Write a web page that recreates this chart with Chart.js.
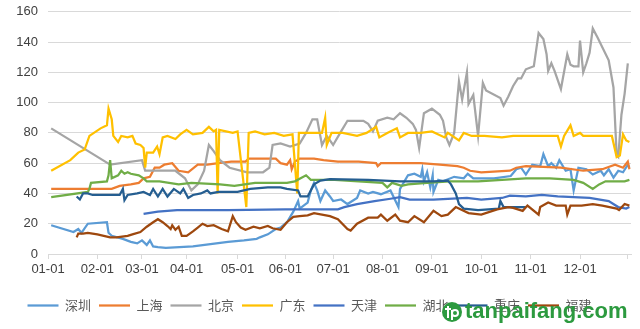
<!DOCTYPE html>
<html>
<head>
<meta charset="utf-8">
<script src="https://cdn.jsdelivr.net/npm/chart.js@4/dist/chart.umd.min.js"></script>
<style>
  html, body { margin: 0; padding: 0; background: #fff; }
</style>
</head>
<body>
<canvas id="price-chart" width="640" height="329"></canvas>
<script>
// 碳市场各试点成交均价（元/吨），x 为当年序号
const cities = ['深圳', '上海', '北京', '广东', '天津', '湖北', '重庆', '福建'];
const tickPos = [0, 31, 59, 87, 119, 149, 179, 210, 241, 272, 303, 334, 364];
const tickLabels = ['01-01', '02-01', '03-01', '04-01', '05-01', '06-01', '07-01', '08-01', '09-01', '10-01', '11-01', '12-01', ''];

const shenzhen = [[2,19],[16,14.5],[19,16.5],[21,14],[25,20],[37,21],[38,14],[40,12],[47,10],[52,8],[56,7],[59,9],[62,6],[64,9],[66,5],[69,4.5],[74,4],[91,5],[102,6.5],[113,8],[123,9],[131,10],[133,11],[138,13],[143,16.5],[146,17.5],[150,21],[154,28],[157,35],[158,30],[163,34],[165,42],[167,47],[169,42],[171,35],[174,42],[177,38],[179,35],[184,36],[188,33],[194,37],[196,42],[201,40],[204,41],[209,39.5],[215,42],[220,31],[221,43],[226,52],[230,53],[234,51],[235,56],[236,48],[238,54],[240,44],[241.5,52],[242,41],[245,49],[248,48],[255,51],[261,50],[263.5,53],[267,50],[280,50],[290.5,51.5],[294,56],[297,57],[300,52.5],[304,59],[309,58],[311,66],[314,58],[316,60],[319,57],[321,62],[325,55],[328,56],[330,42],[333,57],[338,56],[342,52.5],[347,55],[349,52],[352,56],[355,50.5],[358,55],[361,54],[364,59],[365,57]];
const shanghai = [[2,43],[40,43],[45,45],[52,46],[57,47],[60,50],[64,51],[67,57],[70,57],[73,59],[78,60],[82,55],[88,54],[94,59],[100,59],[107,60],[115,61],[124,61],[126,63],[133,63],[143,63],[146,60],[150,59],[152,62],[153,56],[155,61],[158,63],[167,63],[173,62],[182,61],[195,61],[206,60],[207,58],[209,60],[221,60],[234,60],[246,59],[257,58],[261,57],[265,55],[272,54],[290,55],[294,57],[300,58],[322,57],[336,55],[348,56],[356,59],[361,57],[364,61],[365,56]];
const beijing = [[2,83],[39,59],[59,62],[61,55],[80,55],[86,50],[90,42],[94,46],[98,55],[101,72],[104,68],[108,62],[114,57],[125,54],[135,54],[139,57],[141,72],[146,73],[152,71],[158,73],[162,80],[166,89],[169,89],[172,72],[175,78],[179,72],[184,81],[188,88],[198,88],[201,86],[204,81],[207,88],[213,90],[217,89],[221,93],[225,90],[229,86],[231,82],[233,70],[236,93],[241,96],[246,92],[248,88],[250,77],[252,72],[255,80],[258,114],[260,102],[263,120],[264,99],[267,105],[270,78],[273,113],[275,108],[284,103],[286,98],[289,104],[292,111],[295,116],[297,116],[300,122],[305,124],[308,146],[311,142],[313,132],[314,121],[316,126],[318,121],[322,109],[326,132],[328,125],[330,124],[333,124],[334,141],[336,120],[338,126],[340,133],[342,149],[345,143],[352,128],[355,110],[357,65],[358,64],[360,92],[362,106],[364,126]];
const guangdong = [[2,55],[14,62],[19,67],[23,69],[26,78],[33,83],[37,85],[38,96],[40,89],[41,78],[44,74],[46,78],[50,77],[53,78],[55,73],[58,72],[60,70],[61,57],[62,67],[66,67],[68.5,71],[70,66],[72,77],[75,78],[80,76],[83,79],[87,82],[91,79],[97,80],[101,84],[104,81],[105.5,82],[106.5,40],[107.5,82],[116,80],[119,81],[124.5,31],[126,80],[130,81],[136,79],[142,80],[148,78],[153.5,79],[156.5,40],[157.5,80],[165,80],[172,80],[174,90],[175,72],[178,80],[185,80],[194,78],[200,80],[206,84],[208,77],[213,80],[219,83],[221,77],[226,80],[234,80],[241,81],[249,77],[251,80],[258,75],[261,80],[266,78],[274,78],[285,77],[292,78],[306,78],[320,78],[322,71],[324,78],[328,85],[330,78],[334,80],[336,78],[345,78],[354,78],[357,64],[359,65],[361,79],[363,75],[365,74]];
const tianjin = [[60,26.5],[69,28],[81,29],[113,29],[149,29.5],[182,29.5],[186,31],[194,33],[205,35],[215,36.5],[221,37.5],[227,36],[242,36],[263,37],[272,36],[285,37],[290,38.5],[300,38],[310,39],[320,38],[340,37],[352,35],[358,31],[363,30],[365,31]];
const hubei = [[2,37.5],[25,41],[26,43],[27,47],[37,48],[38,52],[39,62],[40,50],[44,52],[46,55],[48,53],[50,54],[52,53],[57,52],[60,50],[62,48],[70,48],[82,46],[90,47],[108,46],[117,45],[130,47],[150,47],[155,48],[162,52],[165,49],[180,49],[195,48],[210,47],[213,44],[216,47],[222,45],[226,46],[238,47],[252,48],[270,48],[285,49],[300,50],[315,50],[330,49],[336,47],[342,43],[346,46],[350,48],[362,48],[365,49]];
const chongqing = [[18,38],[20,36],[22,40],[25,40],[28,39],[39,39],[45,39],[47,43],[48,35.5],[50,39],[56,40],[60,41],[64,39],[66,43],[69,38],[72,43],[75,38],[79,43],[83,40],[85,43],[88,37],[91,39],[96,40],[100,42],[102,40],[107,41],[119,41],[127,43],[138,44],[146,44],[150,43],[157,42],[158.5,38],[163,38],[165,42],[167,46],[171,48.5],[177,49.5],[201,49],[221,48],[242,48],[251,48.5],[253,46],[256,40],[258,33],[261,30],[270,29],[283,30],[284,35],[286,31],[300,31]];
const fujian = [[18,11],[19,13.5],[22,13.5],[25,14],[31,13],[39,11],[43,11],[50,12],[53,13],[58,14.5],[62,18],[66,21],[69,23],[72,21],[75,18.5],[77,16.5],[78,19],[80,16],[82,18],[84,12],[87,12],[91,15],[94,17.5],[97,20],[100,18.5],[104,19],[109,16.5],[113,15],[116,25],[118,21],[121,17.5],[124,16],[129,18],[133,17],[138,18.5],[141,17],[146,16],[150,21],[154,24.5],[158,25],[163,25.5],[167,27],[177,25],[182,23],[188,16.5],[190,15.5],[194,20],[201,24],[207,24],[209,26],[213,22],[218,26],[221,22],[226,21],[230,25],[236,21],[242,28.5],[247,25],[251,26],[254,29],[256,31],[264,27],[272,26],[282,29.5],[289,31],[292,30.5],[298,28.5],[301,32],[308,26],[309,31],[314,34],[319,32],[325,32],[326,26],[328,32],[335,32],[342,33],[348,32],[357,30],[358.5,29],[362,33],[365,32]];

const series = [shenzhen, shanghai, beijing, guangdong, tianjin, hubei, chongqing, fujian];
const colors = ['#5B9BD5', '#ED7D31', '#A5A5A5', '#FFC000', '#4472C4', '#70AD47', '#255E91', '#9E480E'];

const datasets = cities.map(function (name, i) {
    return {
        label: name,
        data: series[i].map(function (p) { return { x: p[0], y: p[1] }; }),
        borderColor: colors[i],
        backgroundColor: colors[i],
        borderWidth: 2.25,
        pointRadius: 0,
        tension: 0,
        order: cities.length - i   // later series drawn on top
    };
});

// nudge the legend row a little to the left
const legendShift = {
    id: 'legendShift',
    afterLayout: function (chart) {
        chart.legend.left -= 6;
        chart.legend.right -= 6;
    }
};

// site mark in the lower right corner
const watermark = {
    id: 'watermark',
    afterDraw: function (chart) {
        const ctx = chart.ctx;
        ctx.save();
        ctx.fillStyle = '#2c9a3f';
        ctx.beginPath();
        ctx.arc(452, 312, 10, 0, Math.PI * 2);
        ctx.fill();
        ctx.strokeStyle = '#fff';
        ctx.lineWidth = 2;
        ctx.beginPath();
        ctx.moveTo(448, 306);
        ctx.lineTo(448, 318);
        ctx.moveTo(445, 309);
        ctx.lineTo(451, 309);
        ctx.stroke();
        ctx.beginPath();
        ctx.arc(455, 313, 3, 0, Math.PI * 2);
        ctx.moveTo(452, 310);
        ctx.lineTo(452, 320);
        ctx.stroke();
        ctx.font = 'bold 22px "Liberation Sans", Arial, sans-serif';
        ctx.fillStyle = '#2c9a3f';
        ctx.textBaseline = 'alphabetic';
        ctx.fillText('tanpaifang.com', 465, 318);
        ctx.restore();
    }
};

new Chart(document.getElementById('price-chart'), {
    type: 'line',
    data: { datasets: datasets },
    plugins: [legendShift, watermark],
    options: {
        responsive: false,
        animation: false,
        layout: { padding: { top: 11, right: 9, bottom: 7, left: 0 } },
        plugins: {
            legend: {
                position: 'bottom',
                labels: {
                    usePointStyle: true,
                    pointStyle: 'line',
                    pointStyleWidth: 31,
                    padding: 8,
                    color: '#595959',
                    font: { family: '"Noto Sans CJK SC", sans-serif', size: 13 },
                    sort: function (a, b) { return a.datasetIndex - b.datasetIndex; }
                }
            },
            tooltip: { enabled: false }
        },
        scales: {
            x: {
                type: 'linear',
                min: 0,
                max: 366,
                afterBuildTicks: function (scale) {
                    scale.ticks = tickPos.map(function (v) { return { value: v }; });
                },
                afterFit: function (scale) { scale.height = 37; },
                ticks: {
                    autoSkip: false,
                    maxRotation: 0,
                    padding: 3,
                    color: '#404040',
                    font: { family: '"Liberation Sans", Arial, sans-serif', size: 13 },
                    callback: function (v, i) { return tickLabels[i]; }
                },
                grid: { drawOnChartArea: false, drawTicks: true, tickLength: 5, color: '#d9d9d9' },
                border: { color: '#d9d9d9' }
            },
            y: {
                min: 0,
                max: 160,
                afterFit: function (scale) { scale.width = 48; },
                ticks: {
                    stepSize: 20,
                    padding: 4,
                    color: '#404040',
                    font: { family: '"Liberation Sans", Arial, sans-serif', size: 13 }
                },
                grid: { color: '#d9d9d9', drawTicks: true, tickLength: 6, tickColor: 'rgba(0,0,0,0)' },
                border: { display: false }
            }
        }
    }
});
</script>
</body>
</html>
